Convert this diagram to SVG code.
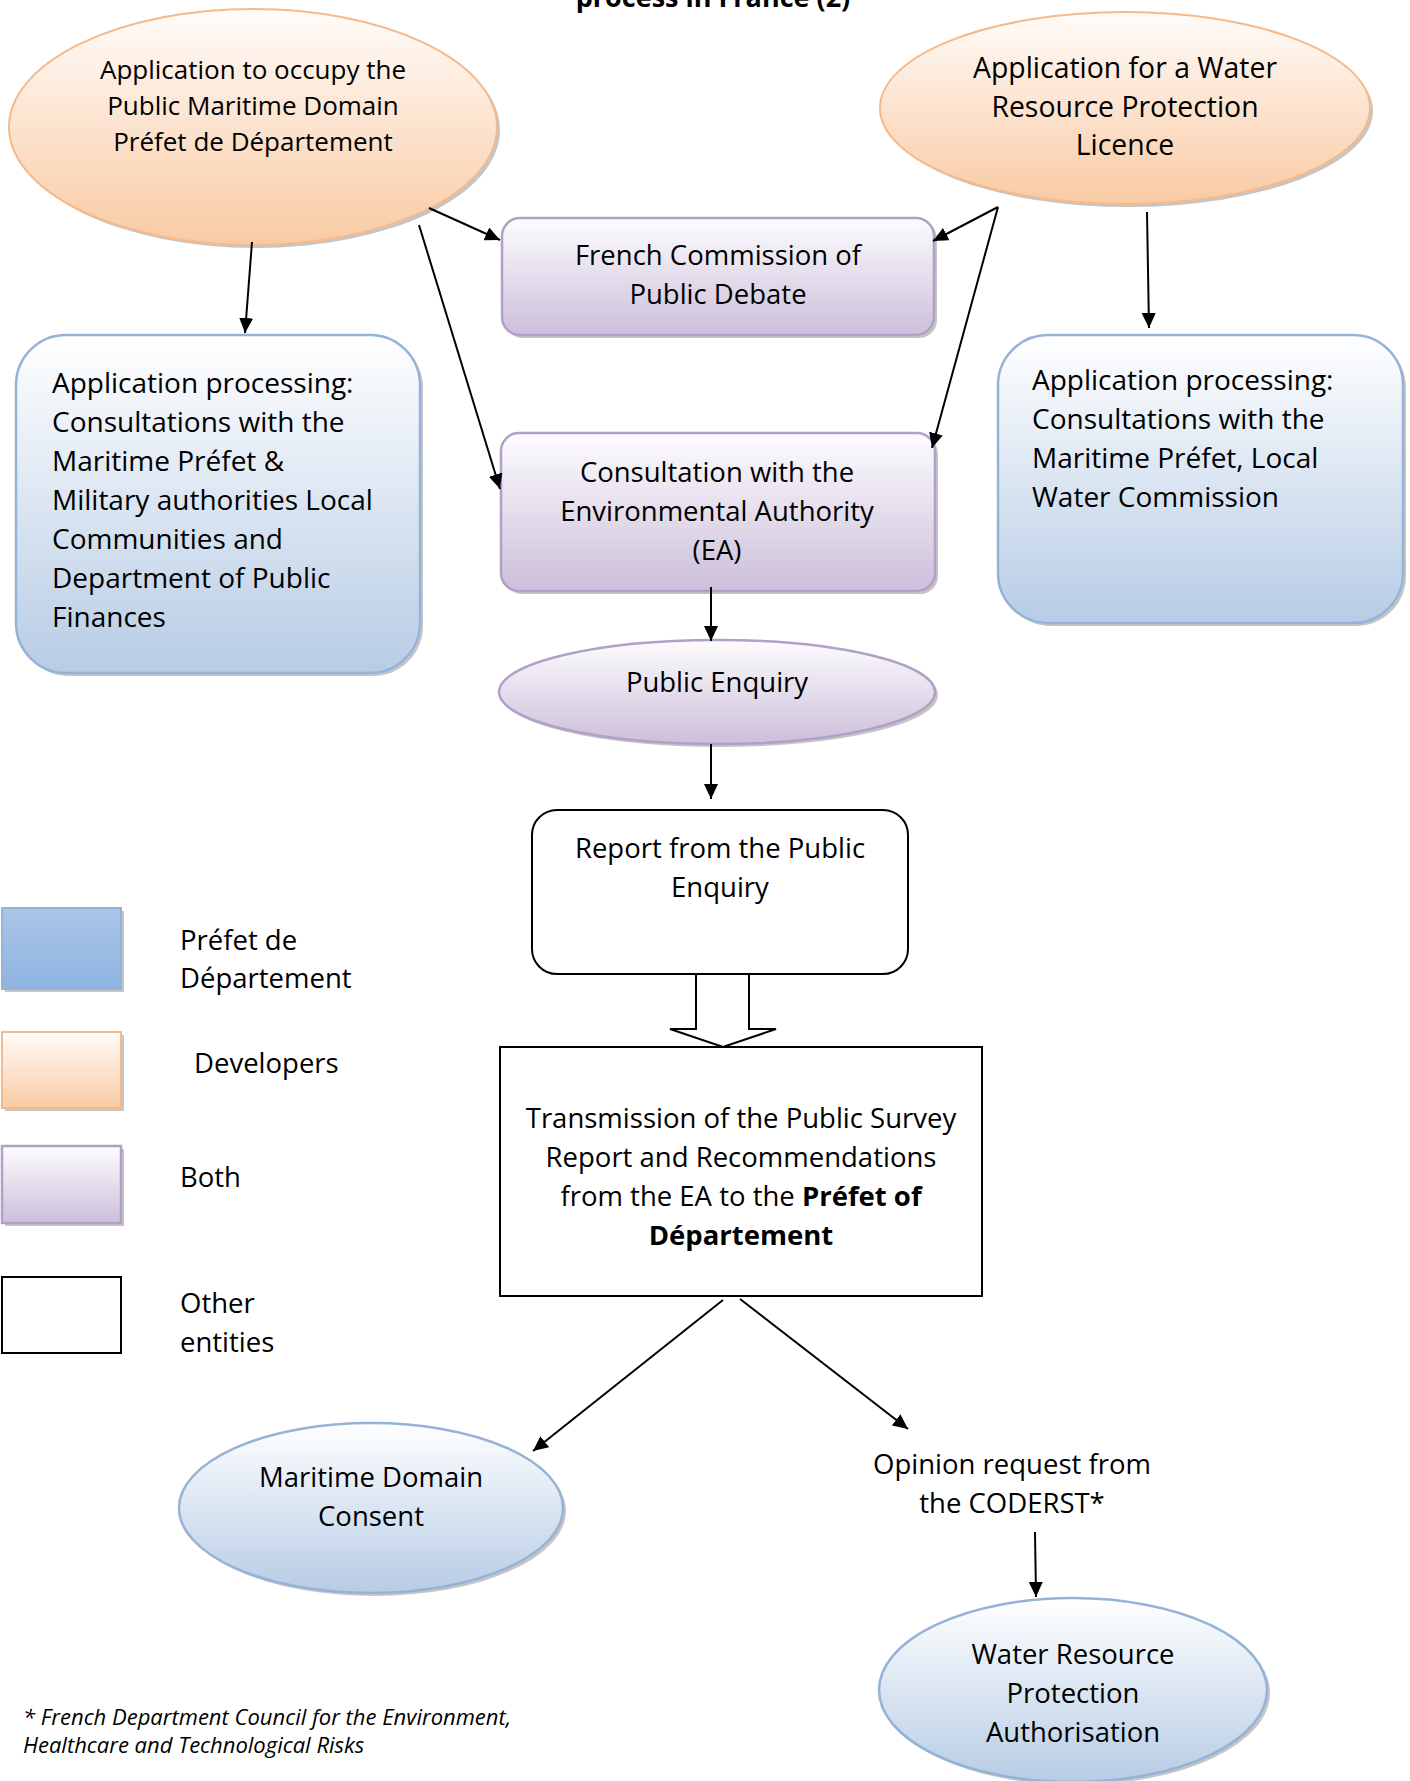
<svg xmlns="http://www.w3.org/2000/svg" width="1410" height="1781" viewBox="0 0 1410 1781">
<style>
text{font-family:"Open Sans","Noto Sans","Liberation Sans",sans-serif;fill:#000}
.t{font-size:27.5px}
.tl{font-size:28px}
.te{font-size:26px}
.tr{font-size:28.4px}
.c{text-anchor:middle}
.b{font-weight:bold}
.fn{font-size:22px;font-style:italic}
.sh{fill:#8c8c8c;opacity:.5}
.or{fill:url(#gO);stroke:#f5b98a;stroke-width:2}
.pu{fill:url(#gP);stroke:#b1a0c8;stroke-width:2.5}
.bl{fill:url(#gB);stroke:#95b3d7;stroke-width:2.5}
.wh{fill:#fff;stroke:#000;stroke-width:2}
.cn{stroke:#000;stroke-width:2;fill:none;marker-end:url(#ah)}
</style>
<defs>
<linearGradient id="gO" x1="0" y1="0" x2="0" y2="1"><stop offset="0" stop-color="#fffcfa"/><stop offset="1" stop-color="#f9caa3"/></linearGradient>
<linearGradient id="gP" x1="0" y1="0" x2="0" y2="1"><stop offset="0" stop-color="#fdfcfe"/><stop offset="1" stop-color="#ccbfda"/></linearGradient>
<linearGradient id="gB" x1="0" y1="0" x2="0" y2="1"><stop offset="0" stop-color="#ffffff"/><stop offset="1" stop-color="#b7cce5"/></linearGradient>
<linearGradient id="gBs" x1="0" y1="0" x2="0" y2="1"><stop offset="0" stop-color="#abc6e7"/><stop offset="1" stop-color="#8db3e2"/></linearGradient>
<marker id="ah" markerWidth="15" markerHeight="14" refX="15" refY="7" orient="auto" markerUnits="userSpaceOnUse"><path d="M0,0 L15,7 L0,14 Z" fill="#000"/></marker>
</defs>

<text class="c b" x="713" y="7" font-size="27">process in France (2)</text>

<g id="n-app-maritime">
<ellipse class="sh" cx="256" cy="130" rx="244" ry="118"/>
<ellipse class="or" cx="253" cy="127" rx="244" ry="118"/>
<text class="te c" x="253" y="79">Application to occupy the</text>
<text class="te c" x="253" y="115">Public Maritime Domain</text>
<text class="te c" x="253" y="151">Préfet de Département</text>
</g>

<g id="n-app-water">
<ellipse class="sh" cx="1128" cy="111" rx="245" ry="96"/>
<ellipse class="or" cx="1125" cy="108" rx="245" ry="96"/>
<text class="tr c" x="1125" y="78">Application for a Water</text>
<text class="tr c" x="1125" y="117">Resource Protection</text>
<text class="tr c" x="1125" y="155">Licence</text>
</g>

<g id="n-debate">
<rect class="sh" x="505" y="221" width="432" height="117" rx="18"/>
<rect class="pu" x="502" y="218" width="432" height="117" rx="18"/>
<text class="t c" x="718" y="265">French Commission of</text>
<text class="t c" x="718" y="304">Public Debate</text>
</g>

<g id="n-ea">
<rect class="sh" x="504" y="436" width="434" height="158" rx="18"/>
<rect class="pu" x="501" y="433" width="434" height="158" rx="18"/>
<text class="t c" x="717" y="482">Consultation with the</text>
<text class="t c" x="717" y="521">Environmental Authority</text>
<text class="t c" x="717" y="560">(EA)</text>
</g>

<g id="n-enquiry">
<ellipse class="sh" cx="720" cy="695" rx="218" ry="52"/>
<ellipse class="pu" cx="717" cy="692" rx="218" ry="52"/>
<text class="t c" x="717" y="692">Public Enquiry</text>
</g>

<g id="n-proc-left">
<rect class="sh" x="19" y="338" width="404" height="338" rx="50"/>
<rect class="bl" x="16" y="335" width="404" height="338" rx="50"/>
<text class="tl" x="52" y="393">Application processing:</text>
<text class="tl" x="52" y="432">Consultations with the</text>
<text class="tl" x="52" y="471">Maritime Préfet &amp;</text>
<text class="tl" x="52" y="510">Military authorities Local</text>
<text class="tl" x="52" y="549">Communities and</text>
<text class="tl" x="52" y="588">Department of Public</text>
<text class="tl" x="52" y="627">Finances</text>
</g>

<g id="n-proc-right">
<rect class="sh" x="1001" y="338" width="405" height="288" rx="50"/>
<rect class="bl" x="998" y="335" width="405" height="288" rx="50"/>
<text class="tl" x="1032" y="390">Application processing:</text>
<text class="tl" x="1032" y="429">Consultations with the</text>
<text class="tl" x="1032" y="468">Maritime Préfet, Local</text>
<text class="tl" x="1032" y="507">Water Commission</text>
</g>

<g id="n-report">
<rect class="wh" x="532" y="810" width="376" height="164" rx="25"/>
<text class="t c" x="720" y="858">Report from the Public</text>
<text class="t c" x="720" y="897">Enquiry</text>
</g>

<g id="n-transmission">
<rect class="wh" x="500" y="1047" width="482" height="249"/>
<text class="t c" x="741" y="1128">Transmission of the Public Survey</text>
<text class="t c" x="741" y="1167">Report and Recommendations</text>
<text class="t c" x="741" y="1206">from the EA to the <tspan class="b">Préfet of</tspan></text>
<text class="t c b" x="741" y="1245">Département</text>
</g>

<g id="n-consent">
<ellipse class="sh" cx="374" cy="1511" rx="192" ry="85"/>
<ellipse class="bl" cx="371" cy="1508" rx="192" ry="85"/>
<text class="t c" x="371" y="1487">Maritime Domain</text>
<text class="t c" x="371" y="1526">Consent</text>
</g>

<g id="n-opinion">
<text class="t c" x="1012" y="1474">Opinion request from</text>
<text class="t c" x="1012" y="1513">the CODERST*</text>
</g>

<g id="n-authorisation">
<ellipse class="sh" cx="1076" cy="1693" rx="194" ry="92"/>
<ellipse class="bl" cx="1073" cy="1690" rx="194" ry="92"/>
<text class="t c" x="1073" y="1664">Water Resource</text>
<text class="t c" x="1073" y="1703">Protection</text>
<text class="t c" x="1073" y="1742">Authorisation</text>
</g>

<g id="legend">
<rect class="sh" x="5" y="911" width="119" height="81"/>
<rect x="2" y="908" width="119" height="81" fill="url(#gBs)" stroke="#95b3d7" stroke-width="2"/>
<text class="t" x="180" y="950">Préfet de</text>
<text class="t" x="180" y="988">Département</text>
<rect class="sh" x="5" y="1035" width="119" height="76"/>
<rect class="or" x="2" y="1032" width="119" height="76"/>
<text class="t" x="194" y="1073">Developers</text>
<rect class="sh" x="5" y="1149" width="119" height="77"/>
<rect class="pu" x="2" y="1146" width="119" height="77"/>
<text class="t" x="180" y="1187">Both</text>
<rect class="wh" x="2" y="1277" width="119" height="76"/>
<text class="t" x="180" y="1313">Other</text>
<text class="t" x="180" y="1352">entities</text>
</g>

<g id="footnote">
<text class="fn" x="23" y="1725">* French Department Council for the Environment,</text>
<text class="fn" x="23" y="1753">Healthcare and Technological Risks</text>
</g>

<g id="connectors">
<line class="cn" x1="252" y1="242" x2="245" y2="333"/>
<line class="cn" x1="429" y1="208" x2="500" y2="240"/>
<line class="cn" x1="419" y1="225" x2="500" y2="489"/>
<line class="cn" x1="998" y1="207" x2="933" y2="241"/>
<line class="cn" x1="998" y1="207" x2="932" y2="448"/>
<line class="cn" x1="1147" y1="212" x2="1149" y2="328"/>
<line class="cn" x1="711" y1="587" x2="711" y2="641"/>
<line class="cn" x1="711" y1="744" x2="711" y2="799"/>
<line class="cn" x1="723" y1="1300" x2="533" y2="1451"/>
<line class="cn" x1="740" y1="1299" x2="908" y2="1429"/>
<line class="cn" x1="1035" y1="1532" x2="1036" y2="1597"/>
<path d="M696,975 L696,1029 L670,1029 L723,1047 L776,1029 L749,1029 L749,975" fill="#fff" stroke="#000" stroke-width="2" stroke-linejoin="miter"/>
</g>
</svg>
